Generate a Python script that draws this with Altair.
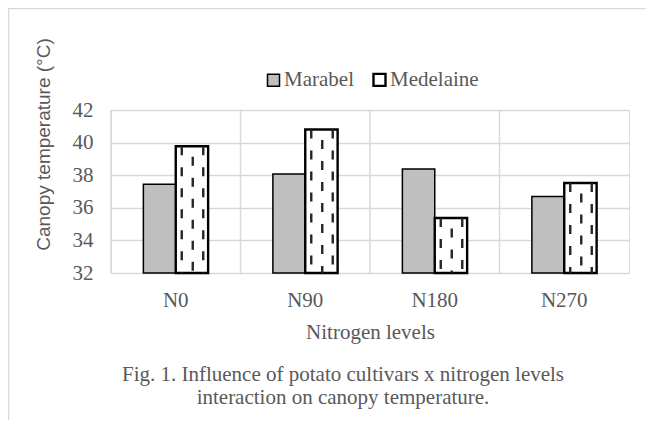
import altair as alt
import pandas as pd

levels = ["N0", "N90", "N180", "N270"]
cultivars = ["Marabel", "Medelaine"]
marabel = [37.45, 38.07, 38.38, 36.70]
medelaine = [39.78, 40.80, 35.37, 37.52]
yticks = [32, 34, 36, 38, 40, 42]

TEXT = "#595959"
GRID = "#d9d9d9"
SERIF = "Liberation Serif"
SANS = "Liberation Sans"

rows = []
for i, lv in enumerate(levels):
    rows.append({"level": lv, "cultivar": "Marabel", "value": marabel[i]})
    rows.append({"level": lv, "cultivar": "Medelaine", "value": medelaine[i]})
df = pd.DataFrame(rows)
med_df = pd.DataFrame({"level": levels, "value": medelaine})
lv_df = pd.DataFrame({"level": levels})
one = pd.DataFrame({"k": [0]})

xscale = alt.Scale(domain=levels, paddingInner=0, paddingOuter=0)
yscale = alt.Scale(domain=[32, 42], nice=False, zero=False)

x_axis = alt.Axis(
    title="Nitrogen levels",
    labelAngle=0,
    ticks=False,
    domain=False,
    grid=False,
    labelFont=SERIF,
    labelFontSize=21,
    labelColor=TEXT,
    labelBaseline="alphabetic",
    labelPadding=33,
    titleFont=SERIF,
    titleFontSize=21,
    titleFontWeight="normal",
    titleColor=TEXT,
    titleBaseline="alphabetic",
    titleY=65,
)
y_axis = alt.Axis(
    values=yticks,
    title="Canopy temperature (°C)",
    ticks=False,
    domain=False,
    grid=True,
    gridColor=GRID,
    gridWidth=1.5,
    labelFont=SERIF,
    labelFontSize=21,
    labelColor=TEXT,
    labelPadding=18,
    titleFont=SANS,
    titleFontSize=19,
    titleFontWeight="normal",
    titleColor=TEXT,
    titleBaseline="alphabetic",
    titleAngle=270,
    titleAlign="center",
    titleX=-61.5,
    titleY=34,
)

vgrid = alt.Chart(lv_df).mark_rule(color=GRID, strokeWidth=1.5).encode(
    x=alt.X("level:N", bandPosition=0, scale=xscale, axis=x_axis)
)

bars = alt.Chart(df).mark_bar(stroke="#000000").encode(
    x=alt.X("level:N", scale=xscale, sort=levels, axis=x_axis),
    xOffset=alt.XOffset(
        "cultivar:N",
        scale=alt.Scale(domain=cultivars, paddingInner=0, paddingOuter=1),
    ),
    y=alt.Y("value:Q", scale=yscale, axis=y_axis),
    y2=alt.datum(32),
    fill=alt.Fill(
        "cultivar:N",
        scale=alt.Scale(domain=cultivars, range=["#bfbfbf", "#ffffff"]),
        legend=alt.Legend(
            title=None,
            orient="none",
            direction="horizontal",
            legendX=152,
            legendY=-41,
            symbolType="square",
            symbolSize=144,
            symbolStrokeColor="#000000",
            symbolStrokeWidth=2,
            labelFont=SERIF,
            labelFontSize=21,
            labelColor=TEXT,
            labelOffset=0,
            columnPadding=14,
            padding=0,
        ),
    ),
    strokeWidth=alt.StrokeWidth(
        "cultivar:N",
        scale=alt.Scale(domain=cultivars, range=[1.5, 2.4]),
        legend=None,
    ),
)


def dash_layer(offset, phase):
    return alt.Chart(med_df).mark_rule(
        color="#262626",
        strokeWidth=2.4,
        strokeDash=[9, 12],
        strokeDashOffset=phase,
        strokeCap="butt",
        xOffset=offset,
    ).encode(
        x=alt.X("level:N", scale=xscale, axis=x_axis),
        y=alt.Y("value:Q", scale=yscale, axis=y_axis),
        y2=alt.datum(32),
    )


d1 = dash_layer(6, 0)
d2 = dash_layer(17, 10.5)
d3 = dash_layer(27.5, 0)

frame_left = alt.Chart(one).mark_rule(color=GRID, strokeWidth=1.5).encode(
    x=alt.value(-102.5), y=alt.value(-102), y2=alt.value(312)
)
frame_top = alt.Chart(one).mark_rule(color=GRID, strokeWidth=1.5).encode(
    x=alt.value(-102.5), x2=alt.value(540), y=alt.value(-101.5)
)

chart = alt.layer(vgrid, bars, d1, d2, d3, frame_left, frame_top).properties(
    width=518,
    height=163,
    padding={"left": 103, "top": 102, "right": 17, "bottom": 147},
    autosize=alt.AutoSizeParams(type="none"),
    title=alt.TitleParams(
        text=[
            "Fig. 1. Influence of potato cultivars x nitrogen levels",
            "interaction on canopy temperature.",
        ],
        orient="bottom",
        anchor="middle",
        frame="group",
        dx=-27,
        offset=-59,
        font=SERIF,
        fontSize=21,
        fontWeight="normal",
        color=TEXT,
        lineHeight=23,
    ),
).configure_view(stroke=GRID, strokeWidth=1.5).configure_legend(
    labelFont=SERIF
).configure(background="#ffffff")

chart.save("out.html", embed_options={"renderer": "svg", "actions": False})
